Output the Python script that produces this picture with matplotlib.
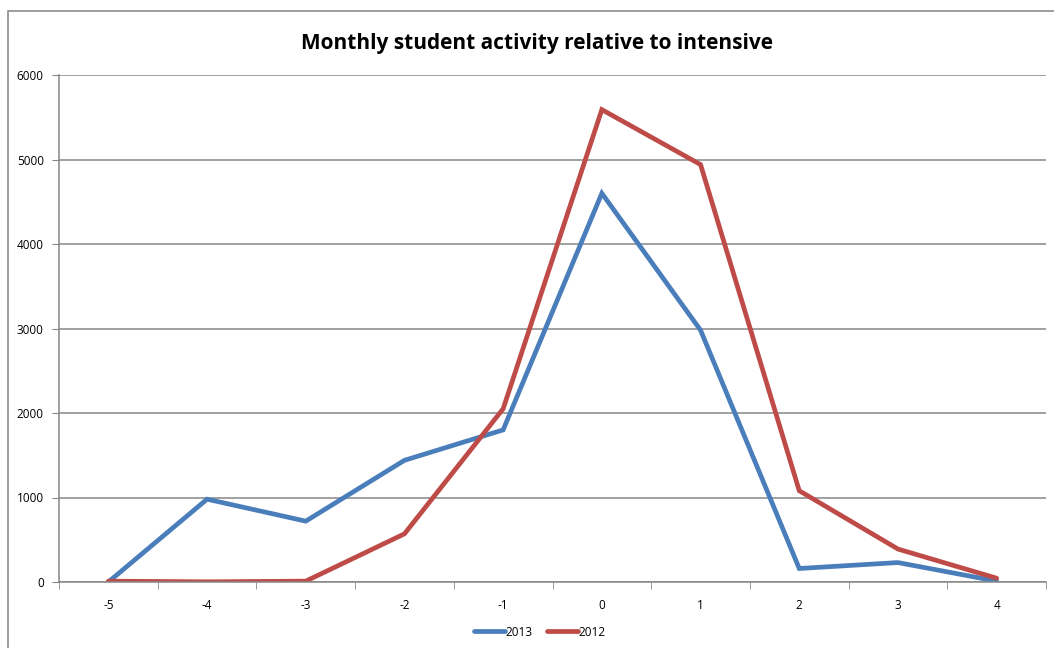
import numpy as np
import matplotlib.pyplot as plt
from matplotlib.patches import Rectangle

# months relative to the intensive
months = ['-5', '-4', '-3', '-2', '-1', '0', '1', '2', '3', '4']
activity_2013 = [0, 980, 720, 1440, 1800, 4600, 2980, 160, 230, 10]
activity_2012 = [10, 2, 10, 570, 2050, 5590, 4940, 1080, 390, 45]

plt.rcParams['font.family'] = ['Open Sans', 'DejaVu Sans']

fig = plt.figure(figsize=(10.54, 6.48), dpi=100)
ax = fig.add_axes([59 / 1054, 1 - 582 / 648, (1046 - 59) / 1054, (582 - 75) / 648])

# chart border, cut off at the right and bottom
fig.patches.append(Rectangle((8 / 1054, -0.2), 1.2, 1.2 - 11 / 648 + 0.0,
                             transform=fig.transFigure, fill=False,
                             edgecolor='#8c8c8c', linewidth=1.2))

x = np.arange(len(months))
ax.plot(x, activity_2013, color='#4a7ebb', linewidth=3.4, solid_capstyle='round',
        solid_joinstyle='miter', label='2013')
ax.plot(x, activity_2012, color='#be4b48', linewidth=3.4, solid_capstyle='round',
        solid_joinstyle='miter', label='2012')

ax.set_xlim(-0.5, len(months) - 0.5)
ax.set_ylim(0, 6000)
ax.set_yticks(range(0, 6001, 1000))
ax.set_xticks(x)
ax.set_xticklabels(months)
ax.set_xticks(np.arange(-0.5, len(months), 1), minor=True)
ax.tick_params(axis='x', which='major', length=0, pad=12, labelsize=8.5)
ax.tick_params(axis='x', which='minor', length=5, color='#868686', direction='out')
ax.tick_params(axis='y', length=5, color='#868686', labelsize=8.5, pad=6)
ax.grid(axis='y', color='#868686', linewidth=1.1)
ax.set_axisbelow(True)
for side in ['top', 'right']:
    ax.spines[side].set_visible(False)
for side in ['left', 'bottom']:
    ax.spines[side].set_color('#868686')
    ax.spines[side].set_linewidth(1.1)

fig.text(537 / 1054, 1 - 44 / 648, 'Monthly student activity relative to intensive',
         ha='center', va='center', fontsize=15, fontweight='bold')

fig.legend(loc='center', bbox_to_anchor=(540 / 1054, 1 - 632 / 648), ncol=2,
           frameon=False, fontsize=8.5, handlelength=2.6, handletextpad=0.1,
           columnspacing=1.2)

plt.savefig('out.png', dpi=100)
